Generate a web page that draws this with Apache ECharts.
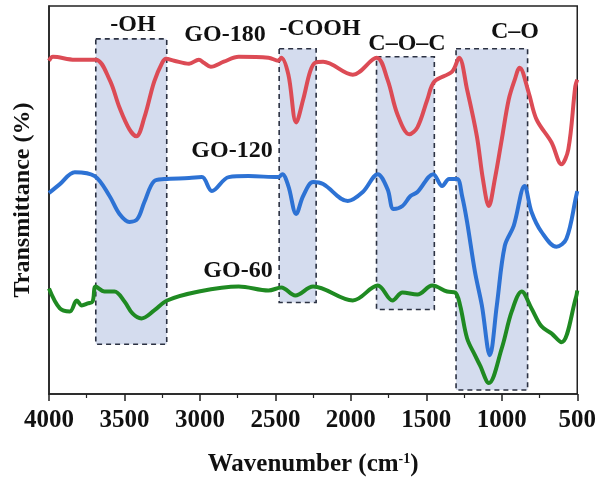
<!DOCTYPE html>
<html>
<head>
<meta charset="utf-8">
<script src="https://cdn.jsdelivr.net/npm/echarts@6/dist/echarts.min.js"></script>
<style>
  html, body { margin: 0; padding: 0; background: #fff; }
  #main { width: 599px; height: 482px; }
</style>
</head>
<body>
<div id="main"></div>
<script>
// FTIR spectra, [wavenumber, transmittance (a.u., offset)]
const go180 = [
  [4000, 335], [3974, 339], [3829, 336], [3691, 336], [3599, 316], [3533, 288],
  [3467, 266], [3421, 259], [3368, 278], [3303, 314], [3250, 333], [3224, 337],
  [3171, 335], [3072, 332], [3007, 336], [2974, 333], [2928, 329], [2842, 334],
  [2743, 339], [2546, 338], [2480, 335], [2461, 338], [2414, 321], [2362, 273],
  [2316, 296], [2270, 324], [2237, 333], [2184, 334], [1987, 321], [1829, 338],
  [1757, 316], [1691, 281], [1612, 261], [1559, 268], [1493, 296], [1447, 314],
  [1329, 324], [1283, 338], [1230, 306], [1165, 259], [1125, 216], [1086, 189],
  [1046, 216], [1000, 256], [954, 296], [914, 316], [882, 328], [822, 303],
  [770, 276], [671, 253], [605, 231], [559, 246], [513, 309], [500, 316]
];
const go120 = [
  [4000, 202], [3928, 211], [3829, 223], [3697, 219], [3599, 199], [3533, 181],
  [3467, 173], [3414, 176], [3368, 193], [3303, 214], [3237, 216], [3072, 217],
  [2987, 218], [2921, 204], [2809, 218], [2678, 219], [2480, 218], [2454, 221],
  [2414, 209], [2362, 181], [2316, 199], [2250, 213], [2184, 211], [2020, 194],
  [1921, 203], [1822, 221], [1757, 206], [1717, 186], [1658, 189], [1605, 199],
  [1559, 203], [1454, 221], [1395, 209], [1349, 216], [1296, 216], [1263, 199],
  [1230, 173], [1178, 123], [1132, 89], [1079, 39], [1033, 89], [980, 149],
  [921, 169], [849, 209], [803, 183], [737, 163], [638, 148], [572, 156],
  [507, 199], [500, 204]
];
const go60 = [
  [4000, 106], [3928, 86], [3862, 83], [3816, 94], [3783, 89], [3743, 91],
  [3711, 93], [3691, 108], [3632, 103], [3566, 103], [3500, 93], [3447, 81],
  [3388, 76], [3303, 84], [3217, 94], [3007, 103], [2743, 108], [2546, 104],
  [2461, 107], [2368, 99], [2250, 108], [1987, 94], [1822, 109], [1724, 94],
  [1658, 102], [1559, 100], [1461, 109], [1362, 103], [1309, 102], [1276, 89],
  [1230, 56], [1178, 39], [1145, 29], [1086, 11], [1000, 46], [934, 83],
  [868, 103], [803, 86], [737, 68], [671, 61], [605, 52], [507, 98], [500, 104]
];

// highlighted absorption bands
const bandNames = ['-OH', '-COOH', 'C–O–C', 'C–O'];
const bandFrom = [3690, 2475, 1830, 1303];
const bandTo = [3220, 2230, 1447, 829];
const bandTop = [357, 347, 339, 347];
const bandBottom = [50, 92, 85, 4];

const xTicks = [4000, 3500, 3000, 2500, 2000, 1500, 1000, 500];

const serif = '"Liberation Serif", "Times New Roman", serif';

const chart = echarts.init(document.getElementById('main'));

const bandAreas = bandNames.map(function (n, i) {
  return [
    { name: n, coord: [bandFrom[i], bandTop[i]] },
    { coord: [bandTo[i], bandBottom[i]] }
  ];
});

function txt(s, x, y, size) {
  return {
    type: 'text', x: x, y: y, z: 100,
    style: {
      text: s, font: 'bold ' + size + 'px ' + serif, fill: '#111',
      align: 'center', verticalAlign: 'middle'
    }
  };
}

const option = {
  animation: false,
  grid: {
    left: 49, right: 18, top: 6, bottom: 86,
    show: true, borderColor: '#222', borderWidth: 1.5
  },
  xAxis: {
    type: 'value',
    inverse: true,
    min: 500, max: 4000, interval: 500,
    name: 'Wavenumber (cm{sup|-1})',
    nameLocation: 'middle',
    nameGap: 58,
    nameTextStyle: {
      fontFamily: serif, fontWeight: 'bold', fontSize: 25, color: '#111',
      rich: { sup: { fontFamily: serif, fontWeight: 'bold', fontSize: 14, color: '#111', verticalAlign: 'top', padding: [0, 0, 10, 0] } }
    },
    axisLine: { lineStyle: { color: '#222', width: 1.5 } },
    axisTick: { show: true, inside: false, length: 7, lineStyle: { color: '#222', width: 1.5 } },
    minorTick: { show: true, splitNumber: 2, length: 4, lineStyle: { color: '#222', width: 1.2 } },
    axisLabel: {
      margin: 14,
      fontFamily: serif, fontWeight: 'bold', fontSize: 25, color: '#111',
      formatter: function (v) { return xTicks.indexOf(v) >= 0 ? String(v) : ''; }
    },
    splitLine: { show: false }
  },
  yAxis: {
    type: 'value',
    min: 0, max: 390,
    name: 'Transmittance (%)',
    nameLocation: 'middle',
    nameGap: 14,
    nameTextStyle: { fontFamily: serif, fontWeight: 'bold', fontSize: 24, color: '#111' },
    axisLine: { show: true, lineStyle: { color: '#222', width: 1.5 } },
    axisTick: { show: false },
    axisLabel: { show: false },
    splitLine: { show: false }
  },
  graphic: [
    txt(bandNames[0], 133, 25, 24),
    txt('GO-180', 225, 35, 24),
    txt(bandNames[1], 320, 29, 24),
    txt(bandNames[2], 407, 44, 24),
    txt(bandNames[3], 515, 32, 24),
    txt('GO-120', 232, 151, 24),
    txt('GO-60', 238, 271, 24)
  ],
  series: [
    {
      type: 'line', data: [], z: 1, silent: true,
      markArea: {
        silent: true,
        itemStyle: {
          color: '#d4dcee', borderColor: '#2b3142', borderWidth: 1.6, borderType: [5, 4]
        },
        label: { show: false },
        data: bandAreas
      }
    },
    {
      name: 'GO-180', type: 'line', data: go180, z: 3,
      smooth: 0.35, symbol: 'none',
      lineStyle: { color: '#dc4b55', width: 4 }
    },
    {
      name: 'GO-120', type: 'line', data: go120, z: 3,
      smooth: 0.35, symbol: 'none',
      lineStyle: { color: '#2d72d4', width: 4 }
    },
    {
      name: 'GO-60', type: 'line', data: go60, z: 3,
      smooth: 0.35, symbol: 'none',
      lineStyle: { color: '#1f8a22', width: 4 }
    }
  ]
};

chart.setOption(option);
</script>
</body>
</html>
